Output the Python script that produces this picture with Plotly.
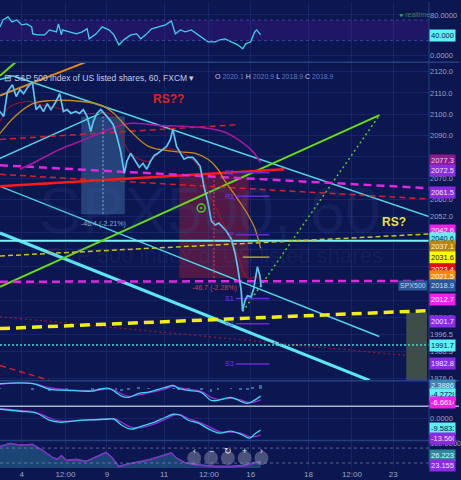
import plotly.graph_objects as go
from plotly.subplots import make_subplots

# Colour palette (TradingView dark-blue theme)
BG = "#0c1650"
GRID = "rgba(44,66,140,0.35)"
SEP = "#22407e"
TICK = "#9aa3c4"
FONT = "Liberation Sans, Arial, sans-serif"

# ---------------------------------------------------------------- data
# x axis in trading hours counted from the left edge
x_tick_vals = [17.5, 52.6, 86.0, 132.0, 168.0, 201.6, 248.0, 283.0, 316.3]
x_tick_text = ["4", "12:00", "9", "11", "12:00", "16", "18", "12:00", "23"]

# SPX500 hourly closes
price_hours = [0, 3, 6, 10, 13, 16, 19, 22, 26, 29, 32, 35, 38, 41, 45, 48, 51, 54,
               57, 61, 64, 67, 70, 73, 75, 78, 81, 84, 88, 91, 94, 97, 100, 102, 105,
               108, 112, 115, 118, 121, 124, 127, 131, 134, 137, 139, 142, 145, 148,
               151, 155, 158, 161, 164, 167, 170, 173, 176, 179, 182, 186, 189, 191,
               194, 195, 197, 199, 202, 204, 206, 207, 209, 210]
price_close = [2101.3, 2099.0, 2110.6, 2113.9, 2108.3, 2111.6, 2109.7, 2112.5, 2115.3,
               2102.2, 2104.1, 2101.3, 2105.0, 2102.2, 2106.0, 2109.7, 2101.3, 2102.2,
               2100.4, 2101.3, 2100.4, 2102.2, 2099.0, 2091.9, 2096.6, 2100.4, 2102.2,
               2100.4, 2097.6, 2095.2, 2089.6, 2082.6, 2072.3, 2077.9, 2081.7, 2078.9,
               2075.1, 2077.0, 2074.2, 2077.9, 2080.7, 2081.7, 2083.5, 2084.9, 2088.2,
               2092.9, 2084.9, 2081.7, 2078.9, 2079.8, 2079.8, 2077.9, 2075.6, 2066.2,
               2059.2, 2049.9, 2048.0, 2048.9, 2047.1, 2045.2, 2041.5, 2034.9, 2028.8,
               2017.1, 2007.8, 2012.5, 2014.8, 2014.3, 2018.1, 2025.6, 2028.4, 2024.2,
               2018.9]

# moving averages
ma_orange_hours = [0, 12, 26.3, 39.8, 66.1, 82.1, 91.6, 103.6, 119.5, 139.4, 157, 167.3,
                   175.3, 180.9, 191.2, 199.2, 204.8, 209.6]
ma_orange = [2091.0, 2099.0, 2105.0, 2106.4, 2106.0, 2104.1, 2100.4, 2092.9, 2084.9,
             2082.6, 2081.7, 2078.9, 2074.2, 2068.6, 2060.2, 2053.1, 2046.6, 2037.1]
ma_red_hours = [0, 8, 23.9, 31.9, 47.8, 63.7, 79.7, 87.6, 95.6, 103.6, 119.5, 131.5,
                139.4, 151.4, 159.4, 167.3, 179.3, 191.2, 199.2, 204.8, 209.6]
ma_red = [2096.6, 2103.6, 2106.0, 2104.6, 2102.7, 2100.4, 2100.4, 2100.4, 2094.3,
          2082.6, 2077.9, 2083.5, 2083.5, 2080.3, 2075.6, 2063.9, 2048.9, 2033.5,
          2022.8, 2023.7, 2023.4]
ma_purple_hours = [15.9, 26.3, 47.8, 66.1, 87.6, 103.6, 127.5, 161.8, 179.3, 193.6,
                   203.2, 209.6]
ma_purple = [2074.2, 2077.0, 2083.5, 2087.7, 2092.9, 2095.7, 2094.8, 2093.8, 2091.9,
             2087.3, 2082.6, 2077.3]

# drawn trend lines: (style, hour0, price0, hour1, price1)
trend_lines = [
    ("cyan", 0, 2116.3, 10.4, 2118.1),
    ("cyan", 10.4, 2118.1, 345, 2052.0),
    ("cyan", 0, 2079.3, 82, 2100.8),
    ("cyan", 0, 2066.2, 305, 1995.7),
    ("cyan_thick", 0, 2044.3, 297.2, 1975.1),
    ("cyan_h", 0, 2040.6, 345, 2040.6),
    ("cyan_dot", 0, 1991.7, 345, 1991.7),
    ("green", 0, 2019.0, 305.2, 2099.6),
    ("green", 0, 2118.1, 13, 2124.7),
    ("green_dot", 195.2, 2007.4, 305.2, 2099.6),
    ("orange", 0, 2108.8, 70, 2124.7),
    ("red", 0, 2066.2, 228.7, 2074.2),
    ("red_dash", 0, 2088.2, 192.8, 2095.2),
    ("red_dash", 0, 2071.8, 345, 2060.2),
    ("red_dash", 0, 1982.1, 39.8, 1975.1),
    ("red_dot", 0, 2005.0, 326.7, 1986.8),
    ("magenta", 0, 2076.1, 345, 2065.3),
    ("magenta", 0, 2021.4, 345, 2021.8),
    ("yellow_thin", 0, 2033.5, 345, 2043.8),
    ("yellow", 0, 1999.4, 342.6, 2007.8),
]

# measured moves: (hour0, hour1, price_top, price_bottom, label)
measure_blue = (65.3, 100.4, 2099.0, 2053.1, "-46.4 (-2.21%)")
measure_red = (144.2, 200.0, 2071.8, 2023.2, "-46.7 (-2.28%)")

# pivot levels
pivot_names = ["R2", "R1", "P", "S1", "S2", "S3"]
pivot_levels = [2072.5, 2061.5, 2043.5, 2013.5, 2001.7, 1982.8]
pivot_hours = [189.6, 216.7]
yellow_level = 2033.0

# right axis price tags
tag_values = [2077.3, 2072.5, 2061.5, 2042.6, 2040.6, 2037.1, 2031.6, 2023.4,
              2021.5, 2018.9, 2012.7, 2001.7, 1991.7, 1982.8]
tag_colors = ["#8e1b8e", "#8a2be2", "#8a2be2", "#f21ef0", "#5ff0f4", "#b8860b",
              "#ffff00", "#dd1111", "#f58a00", "#2b5797", "#f21ef0", "#8a2be2",
              "#5ff0f4", "#8a2be2"]
tag_text_colors = ["#f0d0f0", "#f0e0ff", "#f0e0ff", "#ffffff", "#0c1650", "#fff4d0",
                   "#0c1650", "#ffffff", "#ffffff", "#d0dcf8", "#ffffff", "#f0e0ff",
                   "#0c1650", "#f0e0ff"]
tag_shift = [2, 2, 4, 6, 2, 2, 3, 8, 5, 2, 1, 2, 0, 0]

main_ticks = [2120, 2110, 2100, 2090, 2080, 2070, 2060, 2052, 2044.5, 2036.5, 2028.5,
              2020.5, 2012.5, 2004.5, 1996.5, 1988.5, 1976]

# RSI
rsi_hours = [0, 2.4, 6.4, 9.6, 13.5, 17.5, 21.5, 25.5, 26.3, 30.3, 35.9, 39.8, 45.4, 47,
             49.4, 50.2, 55.8, 61.4, 66.1, 70.1, 71.7, 77.3, 82.1, 87.6, 91.6, 95.6,
             99.6, 105.2, 110, 113.1, 117.1, 121.9, 127.5, 133.1, 137.8, 141, 145, 149,
             153.8, 159.4, 163.3, 167.3, 172.9, 176.9, 180.9, 185.7, 191.2, 195.2,
             197.6, 201.6, 204.8, 206.4, 209.6]
rsi_vals = [56.6, 70.2, 76.1, 66.3, 70.2, 60.5, 62.4, 56.6, 42.9, 41.0, 41.0, 50.7, 46.8,
            62.4, 41.0, 50.7, 46.8, 42.9, 46.8, 52.7, 33.2, 42.9, 56.6, 50.7, 41.0, 21.5,
            31.2, 41.0, 42.9, 33.2, 41.0, 52.7, 56.6, 60.5, 68.3, 42.9, 50.7, 46.8, 50.7,
            41.0, 33.2, 27.3, 27.3, 31.2, 33.2, 27.3, 21.5, 13.7, 23.4, 27.3, 46.8,
            50.7, 41.0]
rsi_band = [30, 70]

# MACD
macd_hours = [0, 26.3, 39.8, 53.4, 74.1, 79.7, 87.6, 93.2, 98, 103.6, 111.6, 119.5,
              133.1, 139.4, 143.4, 151.4, 161.8, 169.7, 175.3, 185.7, 193.6, 199.2,
              203.2, 209.6]
macd_line = [3.6, 3.6, 0.0, -0.6, -1.1, 0.0, 0.6, -1.9, -4.4, -5.0, -2.5, -1.7, 1.2,
             2.5, 0.6, -0.6, -1.9, -6.9, -6.9, -5.0, -7.5, -8.8, -7.5, -4.2728]
macd_signal = [3.2, 3.8, 1.0, -0.2, -0.8, -0.5, 0.2, -1.0, -3.0, -4.4, -3.5, -2.2, 0.3,
               1.9, 1.2, 0.0, -1.2, -5.0, -6.3, -5.6, -6.6, -8.1, -8.2, -6.6614]
macd_hist = [0.4, -0.2, -1.0, -0.4, -0.3, 0.5, 0.4, -0.9, -1.4, -0.6, 1.0, 0.5, 0.9,
             0.6, -0.6, -0.6, -0.7, -1.9, -0.6, 0.6, -0.9, -0.7, 0.7, 2.3886]

# second oscillator
osc_hours = [0, 15.9, 29.5, 39.8, 47.8, 66.1, 85.3, 91.6, 98, 105.2, 111.6, 121.9,
             133.1, 139.4, 145, 151.4, 159.4, 169.7, 176.9, 185.7, 193.6, 200.8, 205.6,
             209.6]
osc_fast = [7.2, 5.6, 4.0, -1.6, -3.2, -1.6, -0.8, -0.8, -5.6, -8.8, -7.2, -4.0, 0.8,
            3.2, 2.4, -1.6, -4.0, -9.6, -12.0, -10.4, -12.8, -16.0, -12.0, -9.5833]
osc_slow = [7.6, 6.2, 4.6, 0.2, -2.2, -1.8, -0.6, -0.4, -3.4, -7.2, -7.8, -5.4, -0.8,
            2.2, 2.8, -0.2, -3.0, -7.6, -11.0, -11.2, -12.0, -14.8, -14.6, -13.5602]

# bottom stochastic-style panel
stoch_hours = [0, 8, 15.9, 26.3, 34.3, 42.2, 46.2, 49.4, 53.4, 61.4, 69.3, 79.7, 85.3,
               90, 95.6, 103.6, 111.6, 119.5, 127.5, 137.8, 141.8, 149, 159.4, 172.9,
               185.7, 196.8, 204.8, 209.6]
stoch_area = [88, 100, 92, 96, 72, 44, 36, 52, 32, 36, 28, 52, 64, 44, 8, 18, 26, 34,
              46, 62, 42, 22, 14, 8, 8, 12, 24, 26.2]
stoch_line = [86, 98, 93, 94, 70, 42, 34, 49, 30, 33, 26, 49, 62, 42, 4, 16, 24, 32,
              44, 60, 40, 20, 12, 4, 4, 8, 20, 23.2]

# ---------------------------------------------------------------- styles
line_styles = {
    "cyan": dict(color="#4fd6e6", width=1.4),
    "cyan_thick": dict(color="#5ae6f2", width=3.2),
    "cyan_h": dict(color="#7cf2f8", width=2),
    "cyan_dot": dict(color="#45d8d8", width=1.5, dash="2px,2px"),
    "green": dict(color="#66dd10", width=2),
    "green_dot": dict(color="#55cc22", width=1.5, dash="2px,3px"),
    "orange": dict(color="#e08a10", width=2),
    "red": dict(color="#ff1a1a", width=2.5),
    "red_dash": dict(color="#d8202a", width=1.5, dash="6px,4px"),
    "red_dot": dict(color="#a01828", width=1.2, dash="2px,3px"),
    "magenta": dict(color="#e426e0", width=2.5, dash="8px,5px"),
    "yellow_thin": dict(color="#c8c020", width=1.5, dash="5px,3px"),
    "yellow": dict(color="#f2ee10", width=3.5, dash="10px,6px"),
}

# ---------------------------------------------------------------- figure
fig = make_subplots(rows=5, cols=1, shared_xaxes=True, vertical_spacing=0)

# RSI panel
fig.add_shape(type="rect", xref="x domain", x0=0, x1=1, yref="y", y0=rsi_band[0],
              y1=rsi_band[1], fillcolor="rgba(48,24,120,0.55)", line_width=0,
              layer="below")
for lvl in rsi_band:
    fig.add_shape(type="line", xref="x domain", x0=0, x1=1, yref="y", y0=lvl, y1=lvl,
                  line=dict(color="rgba(90,90,190,0.6)", width=1, dash="3px,3px"))
fig.add_trace(go.Scatter(x=rsi_hours, y=rsi_vals, mode="lines",
                         line=dict(color="#3ad2ea", width=1.3)), row=1, col=1)

# main panel: measure boxes
for (h0, h1, ptop, pbot, txt), fill, lc in [
        (measure_blue, "rgba(80,140,190,0.38)", "#80b4dc"),
        (measure_red, "rgba(150,30,60,0.5)", "#d84050")]:
    fig.add_shape(type="rect", x0=h0, x1=h1, y0=pbot, y1=ptop, fillcolor=fill,
                  line_width=0, layer="below", row=2, col=1)
    hm = (h0 + h1) / 2
    fig.add_shape(type="line", x0=hm, x1=hm, y0=pbot, y1=ptop,
                  line=dict(color=lc, width=1, dash="2px,2px"), row=2, col=1)
    fig.add_annotation(x=hm, y=pbot, yshift=-10, text=txt, showarrow=False,
                       font=dict(size=7, color=lc, family=FONT), row=2, col=1)

fig.add_shape(type="rect", x0=326.7, x1=343.4, y0=1975.1, y1=2006.9,
              fillcolor="#3e4d48", line_width=0, layer="below", row=2, col=1)

# watermark
fig.add_annotation(xref="paper", yref="paper", x=0.49, y=0.552, text="SPX500, 60",
                   showarrow=False, font=dict(size=64, color="rgba(70,95,170,0.15)",
                                              family=FONT))
fig.add_annotation(xref="paper", yref="paper", x=0.5, y=0.455,
                   text="S&P 500 index of US listed shares", showarrow=False,
                   font=dict(size=22, color="rgba(70,95,170,0.15)", family=FONT))

# trend lines
for style, h0, p0, h1, p1 in trend_lines:
    fig.add_trace(go.Scatter(x=[h0, h1], y=[p0, p1], mode="lines",
                             line=line_styles[style]), row=2, col=1)

# moving averages
fig.add_trace(go.Scatter(x=ma_purple_hours, y=ma_purple, mode="lines",
                         line=dict(color="#a8189e", width=1.6, shape="spline")),
              row=2, col=1)
fig.add_trace(go.Scatter(x=ma_orange_hours, y=ma_orange, mode="lines",
                         line=dict(color="#c88a14", width=1.3, shape="spline")),
              row=2, col=1)
fig.add_trace(go.Scatter(x=ma_red_hours, y=ma_red, mode="lines",
                         line=dict(color="#b01420", width=1, shape="spline")),
              row=2, col=1)

# pivots
for name, lvl in zip(pivot_names, pivot_levels):
    fig.add_trace(go.Scatter(x=pivot_hours, y=[lvl, lvl], mode="lines",
                             line=dict(color="#6a2ad0", width=1.5)), row=2, col=1)
    fig.add_annotation(x=pivot_hours[0], y=lvl, text=name, showarrow=False,
                       xanchor="right", font=dict(size=7, color="#7b3ae0", family=FONT),
                       row=2, col=1)
fig.add_trace(go.Scatter(x=[195.2, pivot_hours[1]], y=[yellow_level, yellow_level],
                         mode="lines", line=dict(color="#c8c020", width=1.2)),
              row=2, col=1)

# price
fig.add_trace(go.Scatter(x=price_hours, y=price_close, mode="lines",
                         line=dict(color="#5cc6f2", width=1.7)), row=2, col=1)

# event marker
fig.add_trace(go.Scatter(x=[161.8], y=[2056.0], mode="markers",
                         marker=dict(symbol="circle-open-dot", size=8, color="#4ccc20",
                                     line=dict(width=1.5))), row=2, col=1)

fig.add_annotation(x=135.5, y=2107.4, text="<b>RS??</b>", showarrow=False,
                   font=dict(size=12, color="#e0221e", family=FONT), row=2, col=1)
fig.add_annotation(x=317.1, y=2049.4, text="<b>RS?</b>", showarrow=False,
                   font=dict(size=12, color="#e6e62e", family=FONT), row=2, col=1)

# MACD panel
fig.add_trace(go.Bar(x=macd_hours, y=macd_hist, width=2.2,
                     marker=dict(color="#2f6f9f", line_width=0)), row=3, col=1)
fig.add_trace(go.Scatter(x=macd_hours, y=macd_signal, mode="lines",
                         line=dict(color="#9a2ae0", width=1.3, shape="spline")),
              row=3, col=1)
fig.add_trace(go.Scatter(x=macd_hours, y=macd_line, mode="lines",
                         line=dict(color="#3ad8ea", width=1.3, shape="spline")),
              row=3, col=1)

# oscillator panel
fig.add_trace(go.Scatter(x=osc_hours, y=osc_slow, mode="lines",
                         line=dict(color="#9a2ae0", width=1.3, shape="spline")),
              row=4, col=1)
fig.add_trace(go.Scatter(x=osc_hours, y=osc_fast, mode="lines",
                         line=dict(color="#3ad8ea", width=1.3, shape="spline")),
              row=4, col=1)

# stochastic panel
for lvl in [20, 80]:
    fig.add_shape(type="line", xref="x5 domain", x0=0, x1=1, yref="y5", y0=lvl, y1=lvl,
                  line=dict(color="rgba(140,150,190,0.6)", width=1, dash="3px,3px"))
fig.add_trace(go.Scatter(x=stoch_hours, y=stoch_area, mode="lines", fill="tozeroy",
                         fillcolor="rgba(40,100,140,0.6)",
                         line=dict(color="rgba(60,140,170,0.8)", width=1)),
              row=5, col=1)
fig.add_trace(go.Scatter(x=stoch_hours, y=stoch_line, mode="lines",
                         line=dict(color="#8a2ad0", width=1.3)), row=5, col=1)

# ---------------------------------------------------------------- tags on the axis
def tag(yref, value, text, bg, fg, shift=0):
    fig.add_annotation(xref="paper", x=1.0, xanchor="left", yref=yref, y=value,
                       yshift=shift, text=text, showarrow=False, bgcolor=bg,
                       font=dict(size=7.5, color=fg, family=FONT), borderpad=1,
                       width=23, align="left")

for v, bg, fg, sh in zip(tag_values, tag_colors, tag_text_colors, tag_shift):
    tag("y2", v, f"{v:.1f}", bg, fg, sh)
fig.add_annotation(xref="paper", x=0.997, xanchor="right", yref="y2", y=2018.9,
                   yshift=2, text="SPX500", showarrow=False, bgcolor="#2b5797",
                   font=dict(size=7, color="#c0d0f0", family=FONT), borderpad=1)

tag("y", 40, "40.0000", "#5ff0f4", "#0c1650")
tag("y3", 2.3886, "2.3886", "#3c86b8", "#e0f0ff", 0)
tag("y3", -4.2728, "-4.2728", "#5ff0f4", "#0c1650", 1.5)
tag("y3", -6.6614, "-6.6614", "#f21ef0", "#ffffff", -2.5)
tag("y4", -9.5833, "-9.5833", "#5ff0f4", "#0c1650", 2)
tag("y4", -13.5602, "-13.5602", "#8a2be2", "#f0e0ff", -3)
tag("y5", 26.2239, "26.2239", "#2a8a9a", "#e0f8ff", 6)
tag("y5", 23.1552, "23.1552", "#8a2be2", "#f0e0ff", -3)

# header and small ui text
fig.add_annotation(xref="paper", yref="paper", x=0.004, y=0.851, xanchor="left",
                   text="⊟ S&P 500 index of US listed shares, 60, FXCM ▾",
                   showarrow=False, font=dict(size=8.5, color="#c5cbe0", family=FONT))
num = "<span style='color:#5a7bc4'>{}</span>"
fig.add_annotation(xref="paper", yref="paper", x=0.497, y=0.851, xanchor="left",
                   text="O " + num.format("2020.1") + " H " + num.format("2020.9") +
                        " L " + num.format("2018.9") + " C " + num.format("2018.9"),
                   showarrow=False, font=dict(size=7, color="#c5cbe0", family=FONT))
fig.add_annotation(xref="paper", yref="paper", x=0.925, y=0.986, xanchor="left",
                   text="<span style='color:#2ea05a'>●</span> realtime",
                   showarrow=False, font=dict(size=7, color="#3d7a5a", family=FONT))

# navigation buttons
for i, sym in enumerate(["‹", "−", "↻", "+", "›"]):
    xp = 0.4527 + i * 0.0392
    fig.add_shape(type="circle", xref="paper", yref="paper", xsizemode="pixel",
                  ysizemode="pixel", xanchor=xp, yanchor=0.0214, x0=-7, x1=7, y0=-7,
                  y1=7, fillcolor="rgba(150,155,175,0.45)", line_width=0)
    fig.add_annotation(xref="paper", yref="paper", x=xp, y=0.0214, text=sym,
                       showarrow=False, font=dict(size=9, color="#e8eaf2", family=FONT))

# panel separators and the price-scale border
for yp, col in [(0.8708, SEP), (0.1870, SEP), (0.1325, "#aab3cc"), (0.0588, SEP)]:
    fig.add_shape(type="line", xref="paper", yref="paper", x0=0, x1=1.07, y0=yp, y1=yp,
                  line=dict(color=col, width=1.5))
fig.add_shape(type="line", xref="paper", yref="paper", x0=1, x1=1, y0=0, y1=1,
              line=dict(color=SEP, width=1))

# ---------------------------------------------------------------- axes and layout
fig.update_xaxes(range=[0, 345], tickvals=x_tick_vals, ticktext=x_tick_text,
                 showgrid=True, gridcolor=GRID, zeroline=False, showline=False,
                 ticks="", tickfont=dict(size=8, color=TICK, family=FONT))
fig.update_yaxes(side="right", showgrid=True, gridcolor=GRID, zeroline=False,
                 showline=False, ticks="", tickfont=dict(size=7.5, color=TICK, family=FONT))

fig.update_layout(
    width=461, height=480,
    margin=dict(l=0, r=28, t=0, b=12),
    paper_bgcolor=BG, plot_bgcolor=BG,
    showlegend=False, bargap=0, hovermode=False,
    yaxis=dict(domain=[0.8718, 1.0], range=[-11.7, 105.4], tickvals=[0, 80],
               ticktext=["0.0000", "80.0000"]),
    yaxis2=dict(domain=[0.1880, 0.8697], range=[1975.1, 2124.2], tickvals=main_ticks,
                ticktext=[f"{v:.1f}" for v in main_ticks]),
    yaxis3=dict(domain=[0.1346, 0.1859], range=[-10.0, 5.0], tickvals=[],
                showgrid=False),
    yaxis4=dict(domain=[0.0598, 0.1303], range=[-17.6, 8.8], tickvals=[0],
                ticktext=["0.0000"]),
    yaxis5=dict(domain=[0.0, 0.0577], range=[0, 108], tickvals=[100],
                ticktext=["100.0000"], showgrid=False),
)

# the page keeps its default 8px body margin otherwise
fig.write_html("out.html", config={"displayModeBar": False},
               post_script="document.body.style.margin='0';"
                           "document.body.style.background='" + BG + "';")
